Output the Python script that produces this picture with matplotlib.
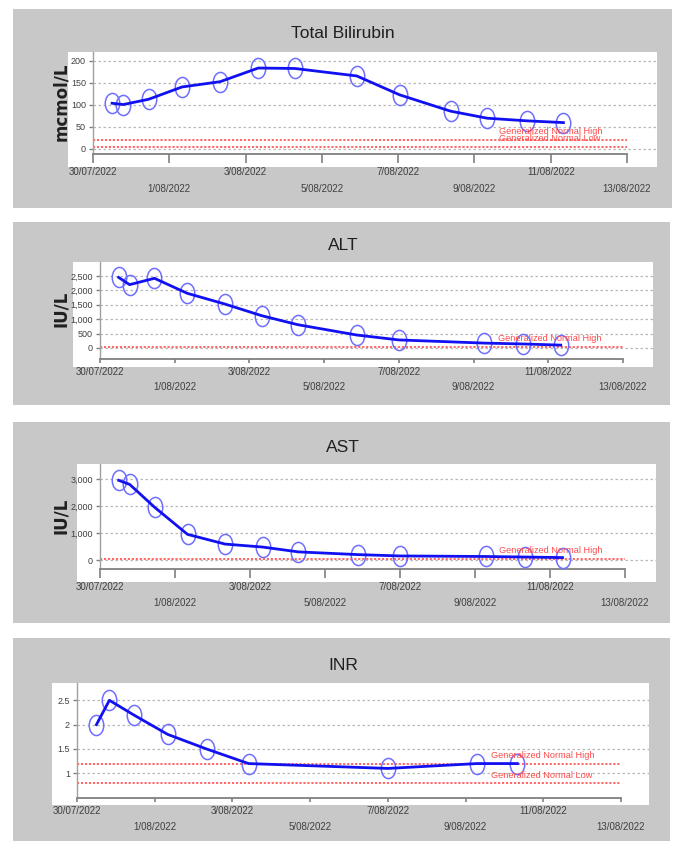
import matplotlib
matplotlib.use("Agg")
import matplotlib.pyplot as plt
import matplotlib.dates as mdates
import pandas as pd
from matplotlib.path import Path
from matplotlib.markers import MarkerStyle
from matplotlib.patches import Rectangle
from matplotlib.ticker import StrMethodFormatter
from matplotlib.transforms import Affine2D

plt.rcParams['font.family'] = ['Liberation Sans', 'DejaVu Sans']

# ---- data ----
bili_times = ["2022-07-30 12:00", "2022-07-30 19:00", "2022-07-31 11:00", "2022-08-01 08:00",
              "2022-08-02 08:00", "2022-08-03 08:00", "2022-08-04 07:00", "2022-08-05 22:00",
              "2022-08-07 01:00", "2022-08-08 09:00", "2022-08-09 08:00", "2022-08-10 09:00",
              "2022-08-11 08:00"]
bili_vals = [104, 101, 113, 141, 153, 184, 183, 166, 123, 86, 70, 64, 60]
bili_high, bili_low = 21, 5

alt_times = ["2022-07-30 12:00", "2022-07-30 19:00", "2022-07-31 11:00", "2022-08-01 08:00",
             "2022-08-02 08:00", "2022-08-03 08:00", "2022-08-04 07:00", "2022-08-05 21:00",
             "2022-08-07 00:00", "2022-08-09 07:00", "2022-08-10 08:00", "2022-08-11 08:00"]
alt_vals = [2450, 2200, 2420, 1900, 1530, 1120, 810, 450, 280, 170, 140, 100]
alt_high = 40

ast_times = alt_times
ast_vals = [2950, 2800, 1950, 950, 590, 480, 300, 200, 150, 130, 110, 90]
ast_high = 40

inr_times = ["2022-07-30 12:00", "2022-07-30 20:00", "2022-07-31 11:00", "2022-08-01 08:00",
             "2022-08-02 08:00", "2022-08-03 10:00", "2022-08-07 00:00", "2022-08-09 07:00",
             "2022-08-10 08:00"]
inr_vals = [2.0, 2.5, 2.2, 1.8, 1.5, 1.2, 1.1, 1.2, 1.2]
inr_high, inr_low = 1.2, 0.8

row1_dates = ["2022-07-30", "2022-08-03", "2022-08-07", "2022-08-11"]
row1_labels = ["30/07/2022", "3/08/2022", "7/08/2022", "11/08/2022"]
row2_dates = ["2022-08-01", "2022-08-05", "2022-08-09", "2022-08-13"]
row2_labels = ["1/08/2022", "5/08/2022", "9/08/2022", "13/08/2022"]

bili_yticks = [0, 50, 100, 150, 200]
alt_yticks = [0, 500, 1000, 1500, 2000, 2500]
ast_yticks = [0, 1000, 2000, 3000]
inr_yticks = [1, 1.5, 2, 2.5]

# ---- layout (pixels) ----
W, H = 676, 841
fig = plt.figure(figsize=(W / 100, H / 100), dpi=100)
fig.patch.set_facecolor('white')

start = pd.Timestamp("2022-07-30")
end = pd.Timestamp("2022-08-13")
ring = MarkerStyle(Path.unit_circle().transformed(Affine2D().scale(0.72, 1.0)))


def px_rect(x0, y0, x1, y1, color, z):
    fig.add_artist(Rectangle((x0 / W, 1 - y1 / H), (x1 - x0) / W, (y1 - y0) / H,
                             transform=fig.transFigure, facecolor=color,
                             edgecolor='none', zorder=z))


def panel(p, title, ylabel, times, vals, yticks, fmt, normals):
    px_rect(*p['gray'], '#c8c8c8', -2)
    px_rect(*p['white'], 'white', -1)
    fig.text(343 / W, 1 - p['title_y'] / H, title, ha='center', va='center',
             fontsize=12.5, color='#202020')
    if ylabel:
        fig.text(61 / W, 1 - p['ylab_y'] / H, ylabel, rotation=90, ha='center',
                 va='center', fontsize=12, fontweight='bold', family='DejaVu Sans',
                 color='#202020')

    x0, x13 = p['x0'], p['x13']
    right = p['white'][2]
    top = p['white'][1]
    bot = p['axis_y']
    ppd = (x13 - x0) / 14.0
    (v_lo, px_lo), (v_hi, px_hi) = p['yref']
    upp = (v_hi - v_lo) / (px_lo - px_hi)

    ax = fig.add_axes([x0 / W, 1 - bot / H, (right - x0) / W, (bot - top) / H])
    ax.set_facecolor('none')
    ax.set_xlim(start, start + pd.Timedelta(days=(right - x0) / ppd))
    ax.set_ylim(v_lo - (bot - px_lo) * upp, v_hi + (px_hi - top) * upp)

    t = pd.to_datetime(times)
    ax.plot(t, vals, ls='none', marker=ring, ms=14.5, mfc='none', mec='#6f6fff',
            mew=1.1, zorder=3)
    ax.plot(t, vals, color='#1010f0', lw=2.0, zorder=4)

    for val, name in normals:
        ax.hlines(val, start, end, colors='#ff5a5a', linestyles=(0, (1.2, 1.0)),
                  lw=1.3, zorder=2)
        ax.annotate(name, (start + pd.Timedelta(days=10.65), val), xytext=(0, 2.5),
                    textcoords='offset points', ha='left', va='bottom',
                    fontsize=6.6, color='#ff4a4a', zorder=5)

    ax.set_yticks(yticks)
    ax.yaxis.set_major_formatter(StrMethodFormatter(fmt))
    ax.yaxis.grid(True, color='#b8b8b8', linestyle=(0, (2, 2)), lw=0.9)
    ax.set_axisbelow(True)
    ax.tick_params(axis='y', length=3, width=1, color='#808080', pad=2,
                   labelsize=6.5, labelcolor='#404040')

    ax.set_xticks(pd.to_datetime(row1_dates), labels=row1_labels)
    ax.set_xticks(pd.to_datetime(row2_dates), labels=row2_labels, minor=True)
    tl = p['tick_len']
    ax.tick_params(axis='x', which='major', length=tl, width=1.2, color='#808080',
                   pad=p['pad1'], labelsize=7, labelcolor='#404040')
    ax.tick_params(axis='x', which='minor', length=tl, width=1.2, color='#808080',
                   pad=p['pad2'], labelsize=7, labelcolor='#404040')

    for s in ('top', 'right'):
        ax.spines[s].set_visible(False)
    ax.spines['left'].set_color('#a0a0a0')
    ax.spines['left'].set_linewidth(1.0)
    ax.spines['bottom'].set_color('#808080')
    ax.spines['bottom'].set_linewidth(1.3)
    ax.spines['bottom'].set_bounds(mdates.date2num(start), mdates.date2num(end))
    return ax


p1 = dict(gray=(13, 9, 672, 208), white=(68, 52, 657, 167), title_y=33, ylab_y=102,
          x0=93, x13=627, axis_y=154, yref=((0, 149), (200, 61)),
          tick_len=6.5, pad1=2.7, pad2=15)
p2 = dict(gray=(13, 222, 670, 405), white=(73, 262, 653, 367), title_y=245, ylab_y=309,
          x0=100, x13=623, axis_y=359, yref=((0, 348), (2500, 276)),
          tick_len=3, pad1=2.5, pad2=13.5)
p3 = dict(gray=(13, 422, 670, 623), white=(77, 464, 656, 582), title_y=447, ylab_y=516,
          x0=100, x13=625, axis_y=569, yref=((0, 560), (3000, 479)),
          tick_len=6.5, pad1=3.2, pad2=14.2)
p4 = dict(gray=(13, 638, 670, 841), white=(52, 683, 649, 805), title_y=665, ylab_y=0,
          x0=77, x13=621, axis_y=798, yref=((1, 773.3), (2.5, 700.3)),
          tick_len=3, pad1=2.7, pad2=14.2)

panel(p1, "Total Bilirubin", "mcmol/L", bili_times, bili_vals, bili_yticks, '{x:,.0f}',
      [(bili_high, "Generalized Normal High"), (bili_low, "Generalized Normal Low")])
panel(p2, "ALT", "IU/L", alt_times, alt_vals, alt_yticks, '{x:,.0f}',
      [(alt_high, "Generalized Normal High")])
panel(p3, "AST", "IU/L", ast_times, ast_vals, ast_yticks, '{x:,.0f}',
      [(ast_high, "Generalized Normal High")])
panel(p4, "INR", None, inr_times, inr_vals, inr_yticks, '{x:g}',
      [(inr_high, "Generalized Normal High"), (inr_low, "Generalized Normal Low")])

fig.savefig("out.png", dpi=100)
